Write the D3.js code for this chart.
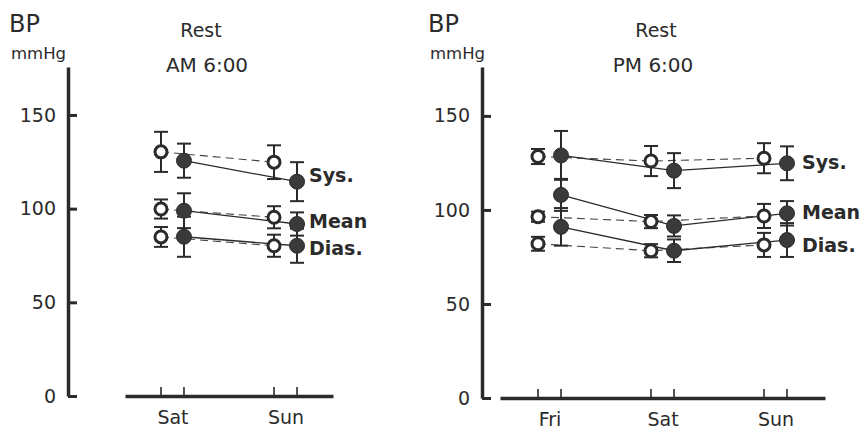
<!DOCTYPE html>
<html>
<head>
<meta charset="utf-8">
<title>Resting BP</title>
<style>
  body { margin: 0; background: #fff; }
  text { font-family: "DejaVu Sans", sans-serif; fill: #2b2b2b; }
  .tick text { font-size: 19px; }
  .lbl { font-weight: bold; font-size: 19px; }
</style>
</head>
<body>
<div id="chart"></div>
<script src="https://d3js.org/d3.v7.min.js"></script>
<script>

// rows: Sys., Mean, Dias. / columns: days
var measures = ["Sys.", "Mean", "Dias."];
var yTicks = [0, 50, 100, 150];

// Rest AM 6:00
var amDays = ["Sat", "Sun"];
var amOpen = [[130.3, 124.8], [99.8, 95.4], [84.9, 80.2]];
var amOpenErr = [[10.7, 9], [5.1, 5.9], [5.3, 5.9]];
var amFilled = [[125.6, 114.4], [98.9, 91.8], [85, 80.2]];
var amFilledErr = [[9.1, 10.4], [9.3, 6.2], [10.7, 9.1]];

// Rest PM 6:00
var pmDays = ["Fri", "Sat", "Sun"];
var pmOpen = [[128.4, 126, 127.5], [96.4, 93.8, 96.8], [82, 78.3, 81.4]];
var pmOpenErr = [[4, 8, 8], [2.7, 3.5, 6.4], [3.7, 3.5, 6.4]];
var pmFilled = [[129, 120.9, 124.8], [108, 91.5, 98.2], [91, 78.3, 84]];
var pmFilledErr = [[13, 9.3, 9], [8.5, 5.6, 6.5], [10, 6, 9]];

var ink = "#2b2b2b";
var width = 864, height = 430;

var svg = d3.select("#chart").append("svg")
  .attr("width", width)
  .attr("height", height);

var panels = [
  { days: amDays, open: amOpen, openErr: amOpenErr, filled: amFilled, filledErr: amFilledErr,
    time: "AM 6:00", bpX: 9, axisX: 68, y0: 396, yMax: 175.6, x0: 125, x1: 333, pad: 0.42,
    restX: 201, timeX: 207, labelDx: 12, nudge: [-7, -3, 2] },
  { days: pmDays, open: pmOpen, openErr: pmOpenErr, filled: pmFilled, filledErr: pmFilledErr,
    time: "PM 6:00", bpX: 428, axisX: 482, y0: 398, yMax: 176, x0: 500, x1: 825, pad: 0.438,
    restX: 656, timeX: 653, labelDx: 15, nudge: [-1, -1, 5] }
];

var off = 11.5;   // open circle left of day, filled right of day

panels.forEach(function(p) {
  var g = svg.append("g");

  var y = d3.scaleLinear().domain([0, p.yMax]).range([p.y0, 67]);
  var x = d3.scalePoint().domain(p.days).range([p.x0, p.x1]).padding(p.pad);

  // headings
  g.append("text").attr("x", p.bpX).attr("y", 32).style("font-size", "24px").text("BP");
  g.append("text").attr("x", p.bpX + 2).attr("y", 59).style("font-size", "16.5px").text("mmHg");
  g.append("text").attr("x", p.restX).attr("y", 37).attr("text-anchor", "middle")
    .style("font-size", "19px").text("Rest");
  g.append("text").attr("x", p.timeX).attr("y", 72).attr("text-anchor", "middle")
    .style("font-size", "20px").text(p.time);

  // y axis, ticks pointing right
  var ya = g.append("g")
    .attr("transform", "translate(" + p.axisX + ",0)")
    .call(d3.axisLeft(y).tickValues(yTicks).tickSize(-9).tickSizeOuter(0).tickPadding(12));
  ya.select(".domain").attr("stroke", ink).attr("stroke-width", 3.5);
  ya.selectAll(".tick line").attr("stroke", ink).attr("stroke-width", 3);
  ya.selectAll(".tick text").attr("fill", ink).style("font-family", "DejaVu Sans");

  // x axis
  var xa = g.append("g")
    .attr("transform", "translate(0," + p.y0 + ")")
    .call(d3.axisBottom(x).tickSize(0).tickSizeOuter(0).tickPadding(15));
  xa.select(".domain").attr("stroke", ink).attr("stroke-width", 3.5);
  xa.selectAll(".tick text").attr("fill", ink).style("font-family", "DejaVu Sans");

  var xt = [];
  p.days.forEach(function(d) { xt.push(x(d) - off, x(d) + off); });
  g.selectAll(".xt").data(xt).enter().append("line")
    .attr("x1", function(d) { return d; }).attr("x2", function(d) { return d; })
    .attr("y1", p.y0).attr("y2", p.y0 - 9)
    .attr("stroke", ink).attr("stroke-width", 1.6);

  // connecting lines
  var lineOpen = d3.line()
    .x(function(d, i) { return x(p.days[i]) - off; })
    .y(function(d) { return y(d); });
  var lineFilled = d3.line()
    .x(function(d, i) { return x(p.days[i]) + off; })
    .y(function(d) { return y(d); });

  g.selectAll(".lo").data(p.open).enter().append("path")
    .attr("d", lineOpen).attr("fill", "none")
    .attr("stroke", "#444").attr("stroke-width", 1.1).attr("stroke-dasharray", "8,5");
  g.selectAll(".lf").data(p.filled).enter().append("path")
    .attr("d", lineFilled).attr("fill", "none")
    .attr("stroke", ink).attr("stroke-width", 1.3);

  // points with error bars
  var pts = [];
  measures.forEach(function(m, k) {
    p.days.forEach(function(d, i) {
      pts.push({ x: x(d) - off, v: p.open[k][i], e: p.openErr[k][i], filled: false });
      pts.push({ x: x(d) + off, v: p.filled[k][i], e: p.filledErr[k][i], filled: true });
    });
  });

  var eb = g.selectAll(".eb").data(pts).enter().append("g").attr("class", "eb");
  eb.append("line")
    .attr("x1", function(d) { return d.x; }).attr("x2", function(d) { return d.x; })
    .attr("y1", function(d) { return y(d.v + d.e); })
    .attr("y2", function(d) { return y(d.v - d.e); })
    .attr("stroke", ink).attr("stroke-width", 2);
  [1, -1].forEach(function(s) {
    eb.append("line")
      .attr("x1", function(d) { return d.x - 7; }).attr("x2", function(d) { return d.x + 7; })
      .attr("y1", function(d) { return y(d.v + s * d.e); })
      .attr("y2", function(d) { return y(d.v + s * d.e); })
      .attr("stroke", ink).attr("stroke-width", 2);
  });

  g.selectAll(".pt").data(pts).enter().append("circle")
    .attr("cx", function(d) { return d.x; })
    .attr("cy", function(d) { return y(d.v); })
    .attr("r", function(d) { return d.filled ? 7.5 : 6; })
    .attr("fill", function(d) { return d.filled ? "#3a3a3a" : "#fff"; })
    .attr("stroke", ink)
    .attr("stroke-width", function(d) { return d.filled ? 1 : 3; });

  // series labels next to the last day
  var last = p.days[p.days.length - 1];
  g.selectAll(".lbl").data(measures).enter().append("text")
    .attr("class", "lbl")
    .attr("x", x(last) + off + p.labelDx)
    .attr("y", function(d, k) { return y(p.filled[k][p.days.length - 1]) + p.nudge[k]; })
    .attr("dy", "0.36em")
    .text(function(d) { return d; });
});

</script>
</body>
</html>
